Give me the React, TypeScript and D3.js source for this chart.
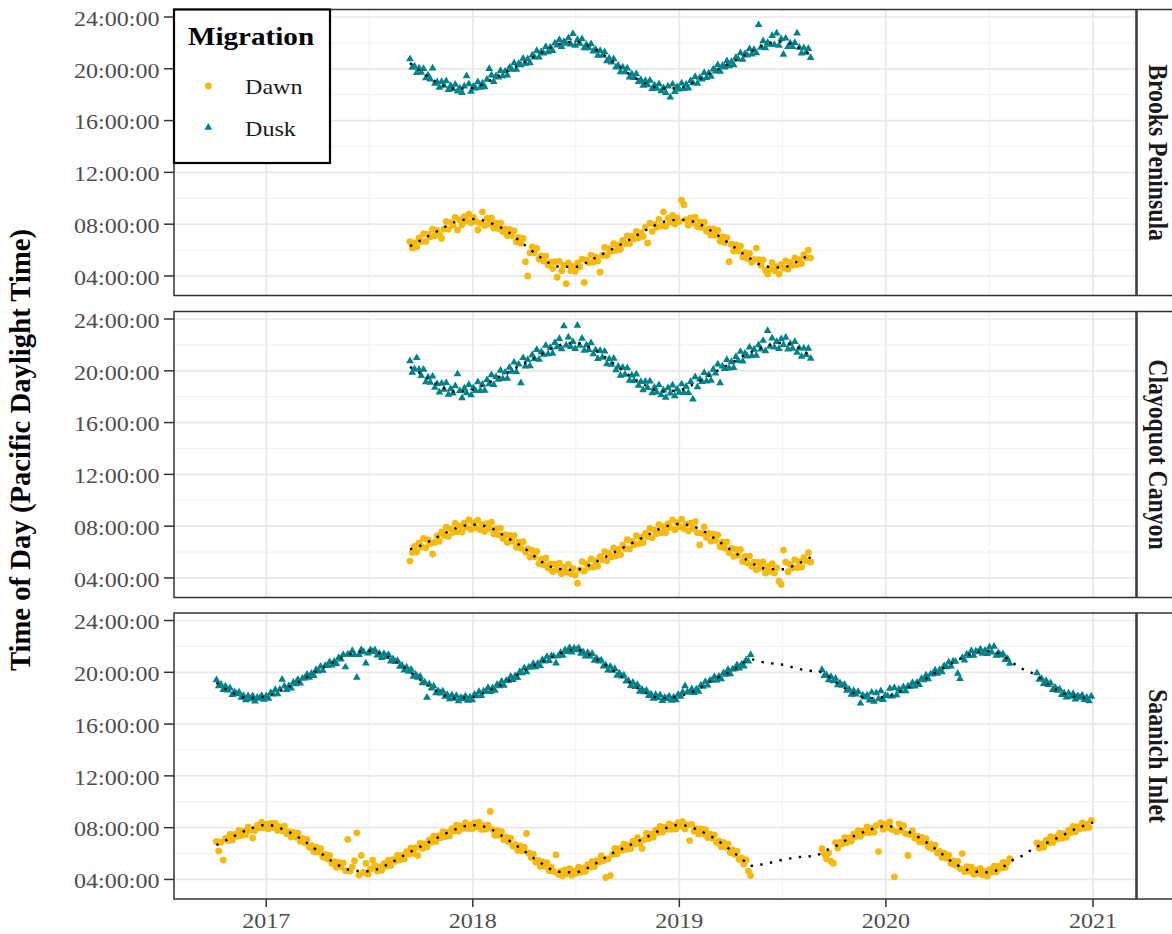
import React from "react";
import * as d3 from "d3";

// ---------------- DATA ----------------
const SITES = ["Brooks Peninsula", "Clayoquot Canyon", "Saanich Inlet"];
const MIGRATION = ["Dawn", "Dusk"];
const STEP_DAYS = 4; // observations below are listed every 4 days from each start date

// Brooks Peninsula (hour of day, PDT)
const BROOKS_START = "2017-09-12";
const brooksDawn = [
  6.65, 6.15, 6.55, 6.25, 6.93, 6.67, 7.27, 6.67, 7.22, 7.02,
  7.61, 7.11, 7.51, 7.2, 6.9, 7.62, 8.21, 7.6, 8.14, 7.93,
  8.53, 7.55, 8.32, 7.95, 8.58, 8.26, 8.78, 8.1, 8.55, 8.23,
  7.55, 8.08, 8.95, 7.9, 8.45, 8.04, 8.48, 7.7, 8.07, 7.68,
  8.1, 7.42, 7.63, 7.12, 7.6, 7.12, 7.48, 6.65, 6.97, 6.53,
  6.9, 5.1, 4.0, 5.78, 6.25, 5.77, 6.13, 5.3, 5.55, 5.15,
  5.55, 4.85, 5.05, 4.57, 5.1, 3.9, 5.12, 4.4, 4.83, 3.4,
  5.01, 4.42, 4.73, 4.35, 5.0, 4.72, 5.3, 3.5, 5.22, 5.01,
  5.6, 5.08, 5.47, 5.16, 4.3, 5.6, 6.2, 5.58, 6.11, 5.9,
  6.49, 5.98, 6.37, 6.06, 6.75, 6.5, 7.1, 6.5, 7.05, 6.85,
  7.45, 6.95, 7.35, 7.05, 7.75, 6.55, 8.07, 7.45, 7.99, 7.78,
  8.37, 7.85, 8.95, 7.84, 8.47, 8.15, 8.68, 8.01, 8.48, 8.2,
  9.85, 9.5, 8.35, 7.92, 8.49, 8.1, 8.55, 7.8, 8.15, 7.75,
  8.15, 7.45, 7.65, 7.15, 7.63, 7.15, 7.52, 6.69, 7.01, 6.58,
  6.95, 5.1, 6.45, 5.92, 6.4, 5.92, 6.3, 5.47, 5.79, 5.35,
  5.75, 5.05, 5.25, 6.15, 5.25, 4.82, 5.24, 4.45, 4.15, 4.55,
  5.03, 4.42, 4.71, 4.15, 4.9, 4.6, 5.16, 4.52, 5.05, 4.83,
  5.4, 4.88, 5.25, 4.95, 5.65, 5.4, 6.0, 5.4,
];
const brooksDusk = [
  20.75, 20.1, 20.2, 19.7, 20.05, 19.72, 20.0, 19.28, 19.51, 19.2,
  20.05, 18.86, 18.99, 18.55, 19.0, 18.7, 19.05, 18.39, 18.69, 18.43,
  18.78, 18.26, 18.5, 18.15, 18.65, 19.45, 18.83, 18.25, 18.63, 18.5,
  18.98, 18.55, 18.88, 18.6, 19.18, 20.0, 19.5, 19.0, 19.45, 19.35,
  19.85, 19.45, 19.8, 19.5, 20.1, 19.95, 20.45, 19.95, 20.4, 20.3,
  20.8, 20.4, 20.75, 20.45, 21.05, 20.9, 21.4, 20.9, 21.32, 21.2,
  21.7, 21.3, 21.65, 21.4, 21.98, 21.81, 22.25, 21.7, 22.1, 21.95,
  22.38, 21.9, 22.7, 21.8, 22.25, 21.95, 22.3, 21.6, 21.85, 21.6,
  21.92, 21.35, 21.5, 21.03, 21.4, 21.03, 21.3, 20.6, 20.82, 20.5,
  20.75, 20.12, 20.25, 19.75, 20.12, 19.75, 20.05, 19.35, 19.6, 19.3,
  19.6, 19.0, 19.15, 18.7, 19.08, 18.75, 19.1, 18.45, 18.73, 18.48,
  18.83, 18.28, 18.51, 18.15, 18.65, 17.8, 18.81, 18.23, 18.6, 18.42,
  18.88, 18.45, 18.78, 18.5, 19.08, 18.9, 19.38, 18.87, 19.32, 19.2,
  19.7, 19.3, 19.65, 19.4, 19.97, 19.81, 20.3, 19.79, 20.23, 20.12,
  20.61, 20.22, 20.55, 20.3, 20.88, 20.73, 21.22, 20.71, 21.16, 21.05,
  21.54, 21.13, 21.47, 21.21, 23.4, 21.65, 22.15, 21.61, 22.02, 21.87,
  22.55, 21.86, 22.75, 21.8, 22.3, 21.1, 22.35, 21.7, 21.97, 21.7,
  22.02, 22.75, 21.65, 21.2, 21.6, 21.25, 21.55, 20.85,
];

// Clayoquot Canyon
const CLAYOQUOT_START = "2017-09-12";
const clayoquotDawn = [
  5.3, 5.96, 6.43, 6.0, 6.71, 6.41, 7.05, 6.34, 6.93, 6.67,
  5.85, 6.75, 7.24, 6.83, 7.56, 7.29, 7.92, 7.21, 7.79, 7.52,
  8.22, 7.56, 8.0, 7.54, 8.23, 7.92, 8.51, 7.75, 8.27, 7.9,
  8.47, 7.74, 8.11, 7.58, 8.2, 7.81, 8.31, 7.41, 7.81, 7.35,
  7.85, 7.05, 7.34, 6.73, 7.28, 6.83, 7.27, 6.37, 6.76, 6.31,
  6.8, 6.0, 6.26, 5.62, 6.13, 5.64, 6.05, 5.11, 5.45, 5.02,
  5.54, 4.76, 5.08, 4.5, 5.07, 4.64, 5.15, 4.32, 4.81, 4.46,
  5.05, 4.34, 4.73, 4.22, 3.6, 4.65, 5.26, 4.53, 5.09, 4.81,
  5.47, 4.83, 5.32, 4.91, 5.65, 5.39, 6.03, 5.32, 5.91, 5.64,
  6.33, 5.72, 6.21, 5.8, 6.54, 6.28, 6.95, 6.24, 6.83, 6.57,
  7.26, 6.65, 7.14, 6.73, 7.46, 7.19, 7.83, 7.11, 7.7, 7.43,
  8.12, 7.5, 7.97, 7.51, 8.2, 7.9, 8.49, 7.73, 8.27, 7.97,
  8.54, 7.8, 8.16, 7.62, 8.23, 7.84, 8.35, 7.5, 6.55, 7.45,
  7.95, 7.14, 7.44, 6.84, 7.38, 6.9, 7.33, 6.41, 6.78, 6.31,
  6.79, 5.96, 6.28, 5.67, 6.21, 5.75, 6.19, 5.28, 5.67, 5.17,
  5.69, 4.9, 5.22, 4.64, 5.2, 4.77, 5.24, 4.38, 4.87, 4.51,
  5.1, 4.39, 4.78, 3.75, 3.5, 6.15, 5.22, 4.48, 5.05, 4.76,
  5.42, 4.79, 5.25, 4.84, 5.57, 5.31, 5.95, 5.23,
];
const clayoquotDusk = [
  20.75, 19.87, 20.14, 21.0, 20.1, 19.62, 20.1, 19.13, 19.51, 19.09,
  19.57, 18.7, 19.0, 18.35, 19.02, 18.55, 19.08, 18.17, 18.61, 18.27,
  18.83, 19.75, 18.45, 17.9, 18.66, 18.28, 18.92, 18.12, 18.68, 18.45,
  19.13, 18.46, 18.94, 18.47, 19.3, 18.98, 19.68, 18.93, 19.53, 19.33,
  20.03, 19.38, 19.88, 19.4, 20.25, 19.95, 20.65, 19.9, 20.5, 19.05,
  21.0, 20.35, 20.85, 20.37, 21.22, 20.92, 21.62, 20.87, 21.45, 21.25,
  21.95, 21.3, 21.8, 21.33, 22.16, 21.83, 22.48, 21.68, 23.45, 21.97,
  22.59, 21.85, 22.25, 21.7, 23.5, 21.95, 22.5, 21.57, 21.99, 21.62,
  22.15, 21.3, 21.6, 20.93, 21.55, 21.02, 21.5, 20.53, 20.91, 20.48,
  20.95, 20.07, 20.33, 19.63, 20.25, 19.72, 20.22, 19.25, 19.65, 19.23,
  19.73, 18.87, 19.16, 18.51, 19.17, 18.68, 19.2, 18.28, 18.71, 18.35,
  18.9, 18.12, 18.5, 17.93, 18.67, 18.27, 18.88, 18.05, 18.58, 18.32,
  18.97, 18.3, 18.78, 18.31, 19.15, 17.8, 19.52, 18.75, 19.35, 19.15,
  19.85, 19.2, 19.7, 19.25, 20.1, 19.8, 20.5, 19.05, 20.35, 20.15,
  20.85, 20.2, 20.68, 20.23, 21.08, 20.78, 21.48, 20.73, 21.33, 21.13,
  21.82, 21.16, 21.65, 21.18, 22.0, 21.67, 22.33, 21.53, 23.1, 21.87,
  22.52, 21.81, 22.24, 21.7, 22.45, 22.02, 22.57, 21.67, 22.1, 21.73,
  22.25, 21.42, 21.75, 21.1, 21.75, 21.23, 21.72, 20.95,
];

// Saanich Inlet: three deployments
const SAANICH_STARTS = ["2016-10-05", "2019-09-10", "2020-09-24"];
const saanichDawnA = [
  6.93, 6.2, 6.88, 5.5, 7.18, 7.01, 7.48,
  7.05, 7.47, 7.33, 7.79, 7.39, 7.73, 7.48, 8.03,
  7.82, 7.2, 7.78, 8.17, 8.0, 8.43, 7.99, 8.27,
  7.92, 8.33, 8.02, 8.35, 7.78, 8.07, 7.78,
  8.11, 7.54, 7.69, 7.27, 7.64, 7.28, 7.57,
  6.96, 7.17, 6.83, 7.09, 6.49, 6.61, 6.16, 6.5,
  6.12, 6.37, 5.73, 5.94, 5.6, 5.85, 5.25, 5.37,
  4.94, 5.32, 4.98, 5.28, 4.68, 7.1, 4.64,
  4.97, 5.45, 7.6, 4.35, 5.85, 4.54, 5.25, 4.41,
  4.79, 5.5, 5.08, 4.66, 4.97, 4.71, 5.23,
  5.02, 5.5, 5.08, 5.52, 5.4, 5.88, 5.5, 5.85,
  5.59, 6.14, 5.97, 6.44, 6.01, 6.44, 5.85, 6.79,
  6.4, 6.74, 6.5, 7.05, 6.88, 7.35, 6.93,
  7.37, 7.23, 7.69, 7.3, 7.63, 7.38, 7.92, 7.75,
  8.2, 7.73, 8.12, 7.95, 8.38, 7.94, 8.22, 7.92,
  8.37, 8.08, 8.42, 7.86, 8.15, 7.88, 8.21,
  9.25, 7.85, 7.42, 7.78, 7.42, 7.7, 7.06, 7.27,
  6.93, 7.19, 6.58, 6.71, 6.25, 6.59, 6.2,
  6.48, 7.55, 6.05, 5.7, 5.95, 5.35, 5.47, 5.02,
  5.38, 5.02, 5.3, 4.68, 4.93, 4.62, 5.9,
  4.4, 4.63, 4.28, 4.73, 4.46, 4.84, 4.32, 4.67,
  4.5, 4.95, 4.55, 4.88, 4.62, 5.15, 4.96, 5.4,
  5.0, 5.45, 5.34, 5.83, 5.46, 4.15, 5.6,
  4.3, 5.94, 6.4, 5.97, 6.39, 6.26, 6.72, 6.33,
  6.63, 6.38, 6.93, 6.75, 7.22, 6.78, 6.4, 7.08,
  7.55, 7.16, 7.5, 7.26, 7.8, 7.63, 8.1,
  7.65, 8.04, 7.87, 8.3, 7.87, 8.17, 7.89, 8.39,
  8.13, 8.47, 7.9, 8.2, 7.0, 8.26, 7.73, 7.92,
  7.52, 7.9, 7.55, 7.85, 7.24, 7.5, 7.18,
  7.45, 6.85, 6.98, 6.53, 6.87, 6.49, 6.75, 6.08,
  6.29, 5.93, 6.17, 5.55, 5.66, 5.19, 5.51, 4.65, 4.3,
];
const saanichDawnB = [
  6.38, 5.98, 5.6, 6.06, 5.4, 5.25,
  6.85, 6.43, 6.87, 6.75, 7.23, 6.85, 7.2, 6.97,
  7.5, 7.32, 7.77, 7.33, 7.74, 7.6, 8.05,
  7.62, 7.92, 7.64, 8.15, 6.15, 8.37, 7.88, 8.25,
  8.02, 8.45, 7.85, 4.2, 7.69, 8.3, 7.8,
  8.15, 7.54, 5.85, 7.48, 7.77, 7.2, 7.35, 6.92,
  7.26, 6.88, 7.14, 6.5, 6.72, 6.38, 6.64, 6.05,
  6.17, 5.71, 6.03, 5.64, 5.88, 5.23, 5.43,
  5.1, 5.4, 4.84, 6.0, 4.6, 4.98, 4.64, 4.95,
  4.4, 4.72, 4.48, 4.85, 4.36, 4.6, 4.27,
  4.76, 4.57, 5.02, 4.58, 5.0, 4.86, 5.32, 4.93,
  5.3, 5.6,
];
const saanichDawnC = [
  6.83, 6.42, 6.73, 6.48, 7.02, 6.84, 7.3, 6.85, 7.27, 7.13,
  7.58, 7.18, 7.51, 7.26, 7.8, 7.62, 8.1, 7.68, 8.08, 7.92,
  8.36, 7.95, 8.27, 8.02, 8.56,
];
const saanichDuskA = [
  19.4, 18.95, 19.05, 18.66, 18.93, 18.62, 18.79,
  18.26, 18.48, 18.32, 18.46, 18.05, 18.19, 17.86, 18.17,
  17.93, 18.18, 17.77, 18.05, 17.97, 18.2, 17.9, 18.17,
  17.98, 18.42, 18.3, 18.65, 18.32, 18.68, 19.45,
  18.92, 18.65, 18.94, 18.76, 19.22, 19.1, 19.45,
  19.15, 19.53, 19.54, 19.84, 19.6, 19.9, 19.73, 20.2,
  20.08, 20.45, 20.14, 20.51, 20.5, 20.8, 20.54, 20.84,
  20.66, 21.12, 21.01, 21.36, 20.4, 21.4, 21.38,
  21.67, 21.36, 19.6, 21.36, 21.75, 21.57, 20.7, 21.47,
  21.73, 21.58, 21.73, 21.32, 21.46, 21.13, 21.44,
  21.2, 21.36, 20.85, 21.02, 20.81, 20.9, 20.44, 20.53,
  20.16, 20.4, 20.07, 20.21, 19.68, 19.83, 19.6, 19.67,
  19.17, 19.24, 18.05, 19.09, 18.77, 18.92, 18.4,
  18.55, 18.39, 18.53, 18.12, 18.26, 17.93, 18.24, 17.98,
  18.2, 17.78, 18.05, 17.95, 18.16, 17.83, 18.07, 17.86,
  18.29, 18.16, 18.5, 18.18, 18.54, 18.52, 18.8,
  18.5, 18.78, 18.6, 19.06, 18.95, 19.3, 18.98, 19.35,
  19.36, 19.67, 19.43, 19.74, 19.58, 20.05, 19.95,
  20.34, 20.02, 20.39, 20.38, 20.67, 20.4, 20.69, 20.51,
  20.97, 20.85, 21.21, 20.89, 21.26, 21.24, 20.7,
  21.25, 21.51, 21.3, 21.73, 21.58, 21.9, 21.54, 21.85,
  21.73, 21.87, 21.45, 21.57, 21.23, 21.52, 21.24, 21.43,
  20.91, 21.07, 20.85, 20.93, 20.46, 20.54, 20.15,
  20.45, 20.13, 20.28, 19.76, 19.92, 19.7, 19.78, 19.31,
  19.35, 18.96, 19.21, 18.89, 19.04, 18.52, 18.68, 18.47,
  18.6, 18.18, 18.31, 17.97, 18.27, 18.01, 18.24,
  17.8, 18.06, 17.95, 18.16, 17.83, 18.07, 17.85, 18.28,
  18.13, 18.46, 18.95, 18.48, 18.45, 18.71, 18.42, 18.69,
  18.52, 19.0, 18.9, 19.28, 18.99, 19.37, 19.38,
  19.66, 19.39, 19.68, 19.49, 19.95, 19.83, 20.19, 19.87,
  20.24, 20.25, 20.56, 20.32, 20.63, 20.47, 20.95, 20.85, 21.35,
];
const saanichDuskB = [
  20.2, 19.73, 19.8, 19.41, 19.65, 19.33,
  19.52, 19.01, 19.18, 18.97, 19.06, 18.6, 18.69, 18.28,
  18.58, 18.3, 18.5, 17.6, 18.23, 18.07, 18.22,
  17.84, 18.45, 17.74, 18.4, 17.94, 18.55, 17.88, 18.2,
  18.16, 18.75, 18.15, 18.8, 18.24, 18.69, 18.56,
  18.87, 18.55, 18.92, 18.9, 19.19, 18.92, 19.21, 19.03,
  19.5, 19.4, 19.78, 19.48, 19.86, 19.86, 20.16, 19.9,
  20.2, 20.03, 20.5, 20.4, 20.77, 20.47, 20.85,
  20.83, 19.9, 19.5, 21.12, 20.93, 21.39, 21.27, 21.66,
  21.3, 21.62, 21.56, 21.79, 21.46, 21.68, 21.43,
  21.95, 21.55, 22.0, 21.3, 21.5, 21.32, 21.42, 20.97,
  21.05, 20.68,
];
const saanichDuskC = [
  19.95, 19.45, 19.5, 19.11, 19.35, 19.03, 19.18, 18.66, 18.82, 18.6,
  18.7, 18.27, 18.4, 18.07, 18.38, 18.12, 18.35, 17.92, 18.17, 18.05,
  18.23, 17.87, 18.06, 17.78, 18.15,
];

// Smoothed trends (dotted lines): [date, hour]
const brooksDawnTrend: [string, number][] = [
  ["2017-09-12", 6.3], ["2017-10-01", 6.75], ["2017-11-01", 7.5], ["2017-12-01", 8.18], ["2018-01-01", 8.4],
  ["2018-02-01", 8.1], ["2018-03-01", 7.5], ["2018-04-01", 6.45], ["2018-05-01", 5.43], ["2018-06-01", 4.73],
  ["2018-07-01", 4.7], ["2018-08-01", 5.3], ["2018-09-01", 6.0], ["2018-10-01", 6.7], ["2018-11-01", 7.5],
  ["2018-12-01", 8.13], ["2019-01-01", 8.35], ["2019-02-01", 8.1], ["2019-03-01", 7.4], ["2019-04-01", 6.45],
  ["2019-05-01", 5.5], ["2019-06-01", 4.75], ["2019-07-01", 4.65], ["2019-08-01", 5.2], ["2019-08-21", 5.7],
];
const brooksDuskTrend: [string, number][] = [
  ["2017-09-12", 20.45], ["2017-10-01", 19.8], ["2017-11-01", 18.88], ["2017-12-01", 18.48], ["2018-01-01", 18.52],
  ["2018-02-01", 19.1], ["2018-03-01", 19.78], ["2018-04-01", 20.5], ["2018-05-01", 21.2], ["2018-06-01", 21.88],
  ["2018-07-01", 22.1], ["2018-08-01", 21.6], ["2018-09-01", 20.7], ["2018-10-01", 19.7], ["2018-11-01", 18.9],
  ["2018-12-01", 18.48], ["2019-01-01", 18.52], ["2019-02-01", 19.1], ["2019-03-01", 19.75], ["2019-04-01", 20.45],
  ["2019-05-01", 21.15], ["2019-06-01", 21.85], ["2019-07-01", 22.1], ["2019-08-01", 21.6], ["2019-08-21", 21.1],
];
const clayoquotDawnTrend: [string, number][] = [
  ["2017-09-12", 6.2], ["2017-10-01", 6.5], ["2017-11-01", 7.2], ["2017-12-01", 7.82], ["2018-01-01", 8.12],
  ["2018-02-01", 7.87], ["2018-03-01", 7.15], ["2018-04-01", 6.35], ["2018-05-01", 5.3], ["2018-06-01", 4.7],
  ["2018-07-01", 4.62], ["2018-08-01", 5.12], ["2018-09-01", 5.82], ["2018-10-01", 6.5], ["2018-11-01", 7.2],
  ["2018-12-01", 7.85], ["2019-01-01", 8.17], ["2019-02-01", 7.87], ["2019-03-01", 7.15], ["2019-04-01", 6.2],
  ["2019-05-01", 5.37], ["2019-06-01", 4.73], ["2019-07-01", 4.67], ["2019-08-01", 5.15], ["2019-08-21", 5.6],
];
const clayoquotDuskTrend: [string, number][] = [
  ["2017-09-12", 20.3], ["2017-10-01", 19.78], ["2017-11-01", 18.9], ["2017-12-01", 18.38], ["2018-01-01", 18.55],
  ["2018-02-01", 19.15], ["2018-03-01", 19.8], ["2018-04-01", 20.55], ["2018-05-01", 21.25], ["2018-06-01", 21.95],
  ["2018-07-01", 22.15], ["2018-08-01", 21.7], ["2018-09-01", 20.75], ["2018-10-01", 19.75], ["2018-11-01", 18.9],
  ["2018-12-01", 18.4], ["2019-01-01", 18.5], ["2019-02-01", 19.1], ["2019-03-01", 19.8], ["2019-04-01", 20.55],
  ["2019-05-01", 21.3], ["2019-06-01", 21.88], ["2019-07-01", 22.15], ["2019-08-01", 21.75], ["2019-08-21", 21.1],
];
const saanichDawnTrend: [string, number][] = [
  ["2016-10-05", 6.65], ["2016-11-01", 7.25], ["2016-12-01", 7.87], ["2017-01-01", 8.22], ["2017-02-01", 7.85],
  ["2017-03-01", 7.2], ["2017-04-01", 6.25], ["2017-05-01", 5.3], ["2017-06-01", 4.7], ["2017-07-01", 4.63],
  ["2017-08-01", 5.1], ["2017-09-01", 5.85], ["2017-10-01", 6.55], ["2017-11-01", 7.25], ["2017-12-01", 7.87],
  ["2018-01-01", 8.2], ["2018-02-01", 7.9], ["2018-03-01", 7.15], ["2018-04-01", 6.22], ["2018-05-01", 5.28],
  ["2018-06-01", 4.6], ["2018-07-01", 4.55], ["2018-08-01", 5.1], ["2018-09-01", 5.93], ["2018-10-01", 6.55],
  ["2018-11-01", 7.2], ["2018-12-01", 7.85], ["2019-01-01", 8.22], ["2019-02-01", 7.86], ["2019-03-01", 7.25],
  ["2019-04-01", 6.3], ["2019-05-01", 5.25], ["2019-05-07", 5.05], ["2019-06-01", 5.2], ["2019-07-01", 5.5],
  ["2019-08-01", 5.73], ["2019-09-01", 5.85], ["2019-09-10", 6.1], ["2019-10-01", 6.5], ["2019-11-01", 7.25],
  ["2019-12-01", 7.8], ["2020-01-01", 8.13], ["2020-02-01", 7.85], ["2020-03-01", 7.2], ["2020-04-01", 6.25],
  ["2020-05-01", 5.25], ["2020-06-01", 4.65], ["2020-07-01", 4.55], ["2020-08-01", 5.15], ["2020-08-07", 5.35],
  ["2020-09-01", 5.9], ["2020-09-24", 6.55], ["2020-10-01", 6.65], ["2020-11-01", 7.25], ["2020-12-01", 7.9],
  ["2021-01-01", 8.4],
];
const saanichDuskTrend: [string, number][] = [
  ["2016-10-05", 19.2], ["2016-11-01", 18.45], ["2016-12-01", 18.0], ["2017-01-01", 18.15], ["2017-02-01", 18.7],
  ["2017-03-01", 19.3], ["2017-04-01", 20.1], ["2017-05-01", 20.8], ["2017-06-01", 21.45], ["2017-07-01", 21.65],
  ["2017-08-01", 21.25], ["2017-09-01", 20.4], ["2017-10-01", 19.4], ["2017-11-01", 18.45], ["2017-12-01", 18.0],
  ["2018-01-01", 18.1], ["2018-02-01", 18.65], ["2018-03-01", 19.25], ["2018-04-01", 20.1], ["2018-05-01", 20.75],
  ["2018-06-01", 21.4], ["2018-07-01", 21.75], ["2018-08-01", 21.2], ["2018-09-01", 20.3], ["2018-10-01", 19.35],
  ["2018-11-01", 18.45], ["2018-12-01", 18.0], ["2019-01-01", 18.15], ["2019-02-01", 18.65], ["2019-03-01", 19.4],
  ["2019-04-01", 20.05], ["2019-05-01", 20.9], ["2019-05-07", 21.0], ["2019-06-01", 20.75], ["2019-07-01", 20.6],
  ["2019-08-01", 20.25], ["2019-09-01", 20.05], ["2019-09-10", 20.0], ["2019-10-01", 19.35], ["2019-11-01", 18.5],
  ["2019-12-01", 18.0], ["2020-01-01", 18.1], ["2020-02-01", 18.65], ["2020-03-01", 19.25], ["2020-04-01", 20.05],
  ["2020-05-01", 20.8], ["2020-06-01", 21.45], ["2020-07-01", 21.65], ["2020-08-01", 21.1], ["2020-08-07", 20.9],
  ["2020-09-01", 20.2], ["2020-09-24", 19.75], ["2020-10-01", 19.5], ["2020-11-01", 18.55], ["2020-12-01", 18.1],
  ["2021-01-01", 18.0],
];

// Axis ticks
const Y_TICKS = [4, 8, 12, 16, 20, 24];
const Y_MINOR = [6, 10, 14, 18, 22];
const X_TICKS = ["2017-01-01", "2018-01-01", "2019-01-01", "2020-01-01", "2021-01-01"];
const X_LABELS = ["2017", "2018", "2019", "2020", "2021"];
const X_MINOR = ["2017-07-02", "2018-07-02", "2019-07-02", "2020-07-02"];
const X_DOMAIN = ["2016-07-22", "2021-03-18"];
const Y_DOMAIN = [2.49, 24.58];

// ---------------- LAYOUT / STYLE ----------------
const W = 1172;
const H = 934;
const LEFT = 174;
const RIGHT = 1136;
const PANEL_TOPS = [9.5, 311.5, 613];
const PANEL_H = 286;
const DAWN = "#F5B90F";
const DUSK = "#00828A";
const FONT = "'Liberation Serif', 'Times New Roman', Times, serif";
const SX = 1.12; // horizontal text stretch

const parse = d3.utcParse("%Y-%m-%d");

function expand(start: string, values: number[]) {
  const s = parse(start) as Date;
  return values.map((v, i) => ({ date: d3.utcDay.offset(s, i * STEP_DAYS), v }));
}

const PANELS = [
  {
    site: SITES[0],
    dawn: expand(BROOKS_START, brooksDawn),
    dusk: expand(BROOKS_START, brooksDusk),
    dawnTrend: brooksDawnTrend,
    duskTrend: brooksDuskTrend,
  },
  {
    site: SITES[1],
    dawn: expand(CLAYOQUOT_START, clayoquotDawn),
    dusk: expand(CLAYOQUOT_START, clayoquotDusk),
    dawnTrend: clayoquotDawnTrend,
    duskTrend: clayoquotDuskTrend,
  },
  {
    site: SITES[2],
    dawn: [
      ...expand(SAANICH_STARTS[0], saanichDawnA),
      ...expand(SAANICH_STARTS[1], saanichDawnB),
      ...expand(SAANICH_STARTS[2], saanichDawnC),
    ],
    dusk: [
      ...expand(SAANICH_STARTS[0], saanichDuskA),
      ...expand(SAANICH_STARTS[1], saanichDuskB),
      ...expand(SAANICH_STARTS[2], saanichDuskC),
    ],
    dawnTrend: saanichDawnTrend,
    duskTrend: saanichDuskTrend,
  },
];

const fmtHour = (h: number) => `${String(h).padStart(2, "0")}:00:00`;

export default function App() {
  const x = d3
    .scaleUtc()
    .domain(X_DOMAIN.map((d) => parse(d) as Date))
    .range([LEFT, RIGHT]);
  const triPath = d3.symbol().type(d3.symbolTriangle).size(26)() as string;

  return (
    <svg
      width={W}
      height={H}
      style={{ position: "absolute", left: 0, top: 0, background: "#fff" }}
      fontFamily={FONT}
    >
      <rect x={0} y={0} width={W} height={H} fill="#fff" />
      {PANELS.map((p, pi) => {
        const top = PANEL_TOPS[pi];
        const y = d3.scaleLinear().domain(Y_DOMAIN).range([top + PANEL_H, top]);
        const line = d3
          .line<[string, number]>()
          .x((d) => x(parse(d[0]) as Date))
          .y((d) => y(d[1]))
          .curve(d3.curveMonotoneX);
        return (
          <g key={p.site}>
            <rect x={LEFT} y={top} width={RIGHT - LEFT} height={PANEL_H} fill="#fff" />
            {Y_MINOR.map((h) => (
              <line key={"ym" + h} x1={LEFT} x2={RIGHT} y1={y(h)} y2={y(h)} stroke="#EEEEEE" strokeWidth={0.9} />
            ))}
            {X_MINOR.map((d) => (
              <line key={"xm" + d} x1={x(parse(d) as Date)} x2={x(parse(d) as Date)} y1={top} y2={top + PANEL_H} stroke="#EEEEEE" strokeWidth={0.9} />
            ))}
            {Y_TICKS.map((h) => (
              <line key={"yM" + h} x1={LEFT} x2={RIGHT} y1={y(h)} y2={y(h)} stroke="#E8E8E8" strokeWidth={1.7} />
            ))}
            {X_TICKS.map((d) => (
              <line key={"xM" + d} x1={x(parse(d) as Date)} x2={x(parse(d) as Date)} y1={top} y2={top + PANEL_H} stroke="#E8E8E8" strokeWidth={1.7} />
            ))}
            {p.dawn.map((d, i) => (
              <circle key={"a" + i} cx={x(d.date)} cy={y(d.v)} r={3.4} fill={DAWN} />
            ))}
            {p.dusk.map((d, i) => (
              <path key={"u" + i} d={triPath} transform={`translate(${x(d.date)},${y(d.v)})`} fill={DUSK} />
            ))}
            <path d={line(p.dawnTrend) as string} fill="none" stroke="#000" strokeWidth={2.4} strokeDasharray="2.4 7.4" />
            <path d={line(p.duskTrend) as string} fill="none" stroke="#000" strokeWidth={2.4} strokeDasharray="2.4 7.4" />
            <rect x={LEFT} y={top} width={RIGHT - LEFT} height={PANEL_H} fill="none" stroke="#333" strokeWidth={1.5} />
            {/* strip */}
            <rect x={RIGHT + 1} y={top} width={50} height={PANEL_H} fill="#fff" stroke="#333" strokeWidth={1.5} />
            <text
              transform={`translate(1148.5,${top + PANEL_H / 2}) scale(${SX},1) rotate(90)`}
              textAnchor="middle"
              fontSize={23.7}
              fontWeight="bold"
              fill="#1a1a1a"
            >
              {p.site}
            </text>
            {/* y axis */}
            {Y_TICKS.map((h) => (
              <g key={"yt" + h}>
                <line x1={164} x2={LEFT} y1={y(h)} y2={y(h)} stroke="#333" strokeWidth={1.5} />
                <text
                  transform={`translate(159.5,${y(h) + 8.8}) scale(${SX},1)`}
                  textAnchor="end"
                  fontSize={21.5}
                  fill="#4D4D4D"
                >
                  {fmtHour(h)}
                </text>
              </g>
            ))}
          </g>
        );
      })}
      {/* x axis */}
      {X_TICKS.map((d, i) => {
        const xx = x(parse(d) as Date);
        const bottom = PANEL_TOPS[2] + PANEL_H;
        return (
          <g key={"xt" + d}>
            <line x1={xx} x2={xx} y1={bottom} y2={bottom + 8} stroke="#333" strokeWidth={1.5} />
            <text transform={`translate(${xx},928) scale(${SX},1)`} textAnchor="middle" fontSize={21.5} fill="#4D4D4D">
              {X_LABELS[i]}
            </text>
          </g>
        );
      })}
      {/* y axis title */}
      <text
        transform={`translate(30,450) scale(1.06,1) rotate(-90)`}
        textAnchor="middle"
        fontSize={28.7}
        fontWeight="bold"
        fill="#000"
      >
        Time of Day (Pacific Daylight Time)
      </text>
      {/* legend */}
      <g>
        <rect x={174} y={9.5} width={156} height={153.5} fill="#fff" stroke="#000" strokeWidth={2.2} />
        <text transform={`translate(188,45) scale(${SX},1)`} fontSize={26} fontWeight="bold" fill="#000">
          Migration
        </text>
        <circle cx={208.3} cy={86} r={3.4} fill={DAWN} />
        <text transform={`translate(245,94) scale(${SX},1)`} fontSize={21.5} fill="#1a1a1a">
          {MIGRATION[0]}
        </text>
        <path d={triPath} transform="translate(208.3,127.5)" fill={DUSK} />
        <text transform={`translate(245,136) scale(${SX},1)`} fontSize={21.5} fill="#1a1a1a">
          {MIGRATION[1]}
        </text>
      </g>
    </svg>
  );
}
